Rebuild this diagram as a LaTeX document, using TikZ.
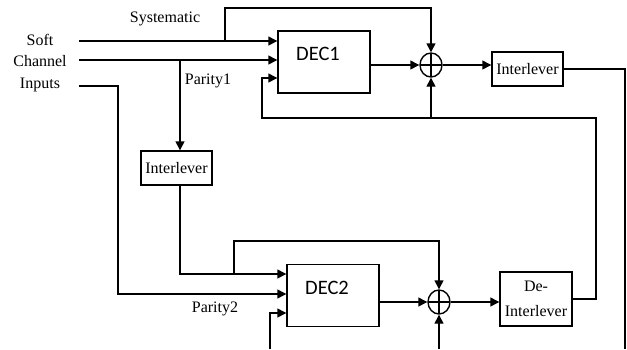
\documentclass[tikz,border=0pt]{standalone}
\usepackage{fontspec}
\setmainfont{Liberation Serif}
\newfontfamily\decfont{Carlito}
\usetikzlibrary{shapes.geometric,arrows.meta,positioning}

\begin{document}
\begin{tikzpicture}[x=1pt, y=-1pt, line width=1.4pt]
    % Define styles
    \tikzstyle{txt} = [font=\fontsize{16}{21.5}\selectfont, inner sep=0pt]
    \tikzstyle{dectxt} = [font=\decfont\fontsize{20.5}{24}\selectfont, xshift=-6pt, yshift=8pt]
    \tikzstyle{decoder} = [rectangle, draw=black, minimum width=92pt, minimum height=62pt]
    \tikzstyle{block} = [rectangle, draw=black, minimum width=71pt, minimum height=34pt, inner sep=1pt, align=center, font=\fontsize{16}{25}\selectfont]
    \tikzstyle{sum} = [ellipse, draw=black, minimum width=22pt, minimum height=24pt, inner sep=0pt,
        path picture={\draw (path picture bounding box.north) -- (path picture bounding box.south)
                            (path picture bounding box.west) -- (path picture bounding box.east);}]
    \tikzstyle{arrow} = [-{Triangle[length=9pt,width=9pt]}]

    \useasboundingbox (0,0) rectangle (627,349);

    % Nodes
    \node [txt, align=center] (inputs) at (40,63) {Soft\\Channel\\Inputs};
    \node [txt] (systxt) at (165,19) {Systematic};
    \node [txt] (par1txt) at (208,81) {Parity1};
    \node [txt] (par2txt) at (215,309) {Parity2};
    \node [decoder, label={[dectxt]center:DEC1}] (dec1) at (324,62) {};
    \node [sum] (sum1) at (431,65) {};
    \node [block] (il1) at (527.5,69) {Interlever};
    \node [block] (il2) at (176.5,168) {Interlever};
    \node [decoder, label={[dectxt]center:DEC2}] (dec2) at (333,295.5) {};
    \node [sum] (sum2) at (439,302) {};
    \node [block, minimum width=72pt, minimum height=54pt] (deil) at (536,299) {De-\\Interlever};

    % Branch points and open ends
    \coordinate (in1) at (79,41);
    \coordinate (in2) at (79,60);
    \coordinate (in3) at (79,86);
    \coordinate (sys1) at (225,41);
    \coordinate (par1) at (180,60);
    \coordinate (sys2) at (234,274);
    \coordinate (fb1) at (262,118);
    \coordinate (fb2) at (270,349);
    \coordinate (ext2) at (439,349);
    \coordinate (out1) at (625,349);

    % Arrows
    \draw [arrow] (in1) -- (in1 -| dec1.west);
    \draw [arrow] (in2) -- (in2 -| dec1.west);
    \draw [arrow] (sys1) |- (sum1 |- 0,8) -- (sum1);
    \draw [arrow] (par1) -- (il2.north -| par1);
    \draw [arrow] (dec1.east |- sum1) -- (sum1);
    \draw [arrow] (sum1) -- (il1.west |- sum1);
    \draw (il1.east) -| (out1);
    \draw [arrow] (in3) -| (118,294) -- (dec2.west |- 0,294);
    \draw [arrow] (il2.south -| par1) |- (dec2.west |- 0,274);
    \draw [arrow] (sys2) |- (sum2 |- 0,241) -- (sum2);
    \draw [arrow] (fb2) |- (dec2.west |- 0,313);
    \draw [arrow] (dec2.east |- sum2) -- (sum2);
    \draw [arrow] (sum2) -- (deil.west |- sum2);
    \draw [arrow] (ext2) -- (sum2);
    \draw [arrow] (deil.east) -| (596,118) -- (fb1) |- (dec1.west |- 0,78);
    \draw [arrow] (sum1 |- fb1) -- (sum1);
\end{tikzpicture}
\end{document}
